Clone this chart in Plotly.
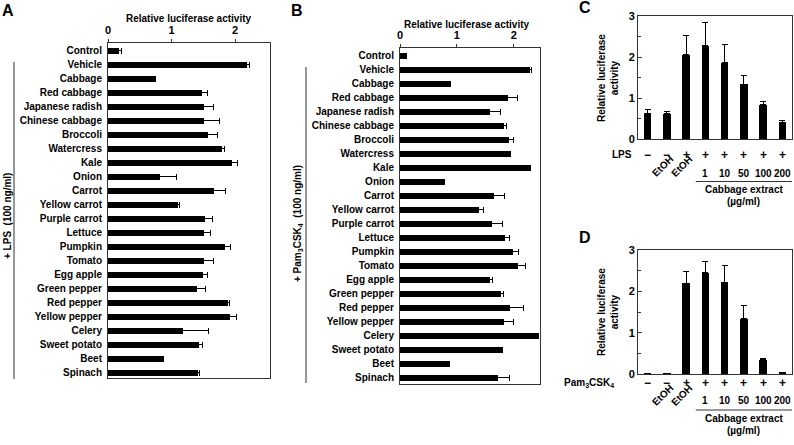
import plotly.graph_objects as go

W, H = 794, 445
def fx(p): return p / W
def fy(p): return 1 - p / H

# ---------------- data ----------------
vegetables = ["Control", "Vehicle", "Cabbage", "Red cabbage", "Japanese radish",
              "Chinese cabbage", "Broccoli", "Watercress", "Kale", "Onion", "Carrot",
              "Yellow carrot", "Purple carrot", "Lettuce", "Pumpkin", "Tomato",
              "Egg apple", "Green pepper", "Red pepper", "Yellow pepper", "Celery",
              "Sweet potato", "Beet", "Spinach"]
lps_mean = [0.16, 2.18, 0.75, 1.47, 1.51, 1.50, 1.56, 1.79, 1.94, 0.81, 1.66, 1.09,
            1.52, 1.51, 1.83, 1.50, 1.48, 1.39, 1.88, 1.92, 1.17, 1.42, 0.87, 1.41]
lps_err = [0.05, 0.04, 0.0, 0.09, 0.15, 0.26, 0.17, 0.05, 0.10, 0.27, 0.19, 0.03,
           0.12, 0.10, 0.10, 0.16, 0.08, 0.14, 0.04, 0.10, 0.41, 0.07, 0.01, 0.03]
pam_mean = [0.12, 2.28, 0.89, 1.89, 1.58, 1.81, 1.91, 1.95, 2.27, 0.79, 1.65, 1.38,
            1.61, 1.84, 1.98, 2.06, 1.57, 1.76, 1.92, 1.82, 2.42, 1.78, 0.87, 1.72]
pam_err = [0.0, 0.03, 0.0, 0.18, 0.18, 0.06, 0.08, 0.0, 0.03, 0.0, 0.18, 0.08,
           0.19, 0.08, 0.11, 0.14, 0.05, 0.05, 0.25, 0.18, 0.02, 0.02, 0.0, 0.20]

dose_idx = [0, 1, 2, 3, 4, 5, 6, 7]
c_mean = [0.63, 0.62, 2.05, 2.27, 1.86, 1.34, 0.83, 0.41]
c_err = [0.08, 0.04, 0.47, 0.58, 0.45, 0.22, 0.08, 0.04]
d_mean = [0.02, 0.02, 2.20, 2.45, 2.22, 1.34, 0.34, 0.03]
d_err = [0.0, 0.0, 0.27, 0.28, 0.40, 0.32, 0.03, 0.0]
stim_signs = ["\u2212", "\u2212", "+", "+", "+", "+", "+", "+"]
vehicle_labels = ["", "EtOH", "EtOH", "", "", "", "", ""]
dose_labels = ["", "", "", "1", "10", "50", "100", "200"]

AX = "#333333"
FONT = dict(family="Liberation Sans, Arial, sans-serif", size=10, color="black", weight="bold")

fig = go.Figure()

def hbar(mean, err, xa, ya):
    return go.Bar(orientation="h", x=mean, y=vegetables, xaxis=xa, yaxis=ya,
                  marker=dict(color="black", line=dict(width=0)), width=0.43,
                  error_x=dict(type="data", array=err, arrayminus=[0] * len(err),
                               symmetric=False, color="black", thickness=1, width=3),
                  showlegend=False, hoverinfo="skip")

def vbar(mean, err, xa, ya):
    return go.Bar(x=dose_idx, y=mean, xaxis=xa, yaxis=ya,
                  marker=dict(color="black", line=dict(width=0)), width=0.38,
                  error_y=dict(type="data", array=err, arrayminus=[0] * len(err),
                               symmetric=False, color="black", thickness=1, width=3),
                  showlegend=False, hoverinfo="skip")

fig.add_trace(hbar(lps_mean, lps_err, "x", "y"))
fig.add_trace(hbar(pam_mean, pam_err, "x2", "y2"))
fig.add_trace(vbar(c_mean, c_err, "x3", "y3"))
fig.add_trace(vbar(d_mean, d_err, "x4", "y4"))

common_line = dict(showline=True, linecolor=AX, linewidth=1, mirror=True,
                   showgrid=False, zeroline=False)

def hx(domain, rng, anchor):
    return dict(domain=domain, range=rng, side="top", anchor=anchor,
                tickvals=[0, 1, 2], ticks="outside", ticklen=3, tickcolor=AX,
                ticklabelstandoff=1, tickfont=dict(size=11), **common_line)

def hy(domain, rng, anchor):
    return dict(domain=domain, range=rng, anchor=anchor, type="category",
                categoryorder="array", categoryarray=vegetables,
                ticks="", ticklabelstandoff=3, **common_line)

def vx(domain, anchor):
    return dict(domain=domain, range=[-0.5, 7.5], anchor=anchor,
                showticklabels=False, ticks="", **common_line)

def vy(domain, anchor):
    return dict(domain=domain, range=[0, 3], anchor=anchor, tickvals=[0, 1, 2, 3],
                ticks="inside", ticklen=4, tickcolor=AX, tickfont=dict(size=11),
                minor=dict(dtick=0.5, tick0=0, ticks="inside", ticklen=3, tickcolor=AX),
                **common_line)

fig.update_layout(
    width=W, height=H, autosize=False,
    margin=dict(l=0, r=0, t=0, b=0, pad=0, autoexpand=False),
    paper_bgcolor="white", plot_bgcolor="white",
    font=FONT, bargap=0,
    xaxis=hx([fx(108), fx(270)], [0, 2.55], "y"),
    yaxis=hy([fy(378), fy(43)], [23.36, -0.57], "x"),
    xaxis2=hx([fx(400), fx(540)], [0, 2.46], "y2"),
    yaxis2=hy([fy(384), fy(48)], [23.43, -0.57], "x2"),
    xaxis3=vx([fx(638), fx(792)], "y3"),
    yaxis3=vy([fy(139), fy(16)], "x3"),
    xaxis4=vx([fx(638), fx(792)], "y4"),
    yaxis4=vy([fy(374), fy(250)], "x4"),
)

ann = []
def txt(x, y, s, size=10, xref="paper", angle=0, xanchor="center", yanchor="middle"):
    ann.append(dict(x=x, y=y, xref=xref, yref="paper", text=s, showarrow=False,
                    font=dict(size=size), textangle=angle,
                    xanchor=xanchor, yanchor=yanchor))

# panel letters
txt(fx(8), fy(10), "A", 16)
txt(fx(297), fy(10), "B", 16)
txt(fx(585), fy(8), "C", 16)
txt(fx(585), fy(237), "D", 16)

# axis titles for A, B
txt(fx(189), fy(18), "Relative luciferase activity")
txt(fx(467), fy(24), "Relative luciferase activity")

# treatment side labels
txt(fx(8), fy(216), "+ LPS  (100 ng/ml)", angle=-90)
txt(fx(298), fy(224), "+ Pam<sub>3</sub>CSK<sub>4</sub>  (100 ng/ml)", angle=-90)

# y titles for C, D
txt(fx(608), fy(78), "Relative luciferase<br>activity", angle=-90)
txt(fx(608), fy(312), "Relative luciferase<br>activity", angle=-90)

# treatment rows below C and D
for xr, sy, ey, ny, ly, stim, ssize, sx in [("x3", 155, 166, 173, 190, "LPS", 10, 634),
                                            ("x4", 383, 395, 400, 418,
                                             "Pam<sub>3</sub>CSK<sub>4</sub>", 10, 616)]:
    txt(fx(sx), fy(sy), stim, ssize, xanchor="right")
    for i in dose_idx:
        txt(i, fy(sy), stim_signs[i], 12, xref=xr)
        if vehicle_labels[i]:
            txt(i - 0.25, fy(ey), vehicle_labels[i], 10, xref=xr, angle=-45)
        if dose_labels[i]:
            txt(i, fy(ny), dose_labels[i], 10, xref=xr)
    txt(5.0, fy(ly), "Cabbage extract", xref=xr)
    txt(5.0, fy(ly + 12), "(\u00b5g/ml)", xref=xr)

fig.update_layout(annotations=ann)

shapes = [
    dict(type="line", xref="paper", yref="paper", x0=fx(14), x1=fx(14), y0=fy(62), y1=fy(379),
         line=dict(color=AX, width=1)),
    dict(type="line", xref="paper", yref="paper", x0=fx(306), x1=fx(306), y0=fy(67), y1=fy(383),
         line=dict(color=AX, width=1)),
    dict(type="line", xref="x3", yref="paper", x0=2.5, x1=7.5, y0=fy(181.5), y1=fy(181.5),
         line=dict(color=AX, width=1)),
    dict(type="line", xref="x4", yref="paper", x0=2.5, x1=7.5, y0=fy(410), y1=fy(410),
         line=dict(color=AX, width=1)),
]
fig.update_layout(shapes=shapes)

fig.write_html("out.html", config={"displayModeBar": False},
               post_script="document.body.style.margin='0';document.body.style.padding='0';")
